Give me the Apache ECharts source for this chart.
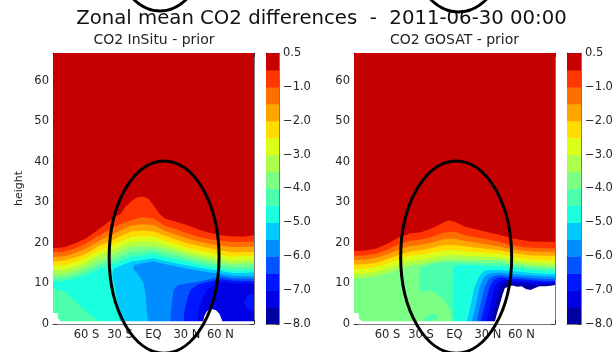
<!DOCTYPE html>
<html><head><meta charset="utf-8">
<script src="https://cdn.jsdelivr.net/npm/echarts@6/dist/echarts.min.js"></script>
<style>html,body{margin:0;padding:0;background:#fff}#c{width:616px;height:352px}</style>
</head><body><div id="c"></div>
<script>
// ---------------- data ----------------
const LEVELS = [-8,-7.5,-7,-6.5,-6,-5.5,-5,-4.5,-4,-3.5,-3,-2.5,-2,-1.5,-1,-0.5,0.5];
const BAND_COLORS = ['#0000a2','#0000e6','#0016ff','#0053ff','#008eff','#00caff','#1affdd','#4bffac',
                     '#7bff84','#acff4b','#dcff1a','#ffdd00','#ffa500','#ff6e00','#ff3600','#c40000'];
const LAT_LABELS = {'-60':'60 S','-30':'30 S','0':'EQ','30':'30 N','60':'60 N'};
const LATS = [-90,-80,-70,-60,-50,-40,-30,-20,-10,0,10,20,30,40,50,60,70,80,90];
const H_TOP = 66.8;

// InSitu - prior : contour heights (value < level below the line)
const inLt0_5 = [[-90,18.7],[-80,18.9],[-70,19.9],[-60,21.2],[-50,23.2],[-40,25.2],[-35,26.5],[-30,27.0],[-25,28.9],[-20,30.2],[-15,31.2],[-10,31.4],[-5,31.0],[0,29.3],[5,27.3],[10,26.0],[20,25.2],[30,24.4],[40,23.3],[50,22.5],[60,21.9],[70,21.6],[80,21.5],[90,21.9]];
const inLt1_0 = [17.6,17.8,18.7,19.9,21.6,23.2,24.6,25.6,26.4,26.0,24.3,23.4,22.4,21.5,20.9,20.5,20.2,20.2,20.3];
const inLt1_5 = [16.5,16.7,17.5,18.7,20.3,21.7,23.0,24.2,24.6,24.4,23.0,22.0,21.1,20.4,19.8,19.3,19.0,19.0,19.1];
const inLt2_0 = [15.4,15.6,16.4,17.4,19.1,20.3,21.6,22.8,23.0,22.8,21.8,20.8,19.9,19.3,18.7,18.1,17.7,17.7,17.8];
const inLt2_5 = [14.3,14.5,15.3,16.4,17.9,19.1,20.3,21.4,21.6,21.5,20.6,19.7,18.8,18.2,17.6,17.1,16.6,16.7,16.8];
const inLt3_0 = [13.3,13.4,14.2,15.3,16.8,17.8,19.0,20.1,20.3,20.3,19.5,18.7,17.8,17.2,16.6,16.1,15.6,15.7,15.8];
const inLt3_5 = [12.2,12.3,13.1,14.1,15.6,16.6,17.8,18.9,19.1,19.0,18.5,17.8,17.0,16.3,15.8,15.3,14.8,14.9,15.0];
const inLt4_0 = [11.3,11.4,12.1,13.1,14.5,15.4,16.6,17.7,18.0,18.2,17.5,16.9,16.2,15.5,15.0,14.5,14.0,14.0,14.1];
const inLt4_5 = [10.5,10.6,11.2,12.1,13.4,14.3,15.5,16.6,16.9,17.3,16.5,16.0,15.4,14.7,14.2,13.7,13.2,13.2,13.3];
const inLt4_5Floor = [[-45,0],[-48,0.6],[-55,1.8],[-62,3.5],[-68,5.2],[-74,6.7],[-80,8.0],[-90,8.8]];
const inLt5_0 = [[-30,0],[-31,3],[-33,6.5],[-35,9.5],[-37,12],[-36,13.6],[-30,14.3],[-20,15.4],[-10,15.8],[0,16.2],[10,15.5],[20,15.0],[30,14.5],[40,13.9],[50,13.5],[60,13.1],[70,12.6],[80,12.6],[90,12.7],[90,0]];
const inLt5_5 = [[-4.5,0],[-6,3],[-7,7],[-9,10],[-13,12],[-18,13.5],[-18,14.3],[-12,14.9],[-5,15.2],[0,15.4],[10,14.8],[20,14.2],[30,13.7],[40,13.2],[50,12.7],[60,12.3],[70,11.9],[80,11.8],[90,11.8],[90,0]];
const inLt6_0 = [[15,0],[16,4],[18,8.4],[22,9.6],[30,10.0],[40,10.4],[50,11.0],[60,11.7],[70,11.3],[80,11.2],[90,11.2],[90,0]];
const inLt6_5 = [[26.5,0],[28,3.5],[30,5.9],[33,8.4],[40,9.8],[50,10.4],[60,11.1],[70,10.7],[80,10.6],[90,10.6],[90,0]];
const inLt7_0 = [[38.7,0],[41.7,5],[47.7,8.4],[56.6,10],[60,10.4],[70,10.1],[80,10.0],[90,10.0],[90,7.5],[84,7.2],[81,5.5],[83,3.8],[90,3.4],[90,0]];
const inNoData = [[[-90,0],[-90,0.7],[90,0.7],[90,0]],
                  [[-90,0],[-90,2.7],[-86,2.7],[-85.5,1.3],[-83.5,1.0],[-83.5,0]],
                  [[44,0],[45.5,2],[48,3.2],[52,3.7],[56,3.4],[59,2.5],[61,1.2],[62,0]]];

// GOSAT - prior
const goLt0_5 = [[-90,18.0],[-80,18.1],[-70,18.6],[-60,19.8],[-50,21.3],[-40,22.3],[-30,22.6],[-20,23.6],[-10,25.0],[-5,25.6],[0,25.2],[10,23.9],[20,23.3],[30,22.6],[40,22.0],[50,21.2],[60,20.7],[70,20.3],[80,20.3],[90,20.2]];
const goLt1_0 = [16.8,16.9,17.3,18.3,19.6,20.5,20.8,21.5,22.5,22.8,21.8,21.3,20.8,20.3,19.5,19.0,18.8,18.7,18.6];
const goLt1_5 = [15.8,15.9,16.3,17.2,18.3,19.2,19.5,20.1,20.9,21.0,20.4,20.0,19.6,19.1,18.5,18.1,17.9,17.8,17.7];
const goLt2_0 = [14.6,14.7,15.1,16.0,17.0,17.9,18.2,18.8,19.4,19.5,19.1,18.8,18.5,18.2,17.6,17.2,16.9,16.8,16.7];
const goLt2_5 = [13.5,13.6,14.1,15.0,15.9,16.8,17.0,17.6,18.1,18.2,17.9,17.7,17.5,17.3,16.7,16.2,15.9,15.8,15.7];
const goLt3_0 = [12.3,12.4,12.9,13.7,14.6,15.6,15.8,16.4,16.9,17.0,16.8,16.7,16.6,16.4,15.8,15.4,15.1,15.0,14.9];
const goLt3_5 = [11.3,11.4,11.8,12.5,13.4,14.4,14.7,15.3,15.8,15.9,15.8,15.8,15.8,15.8,15.2,14.7,14.4,14.3,14.2];
const goLt4_0 = [[-31,8.0],[-31.5,11],[-31,13.7],[-30,14.0],[-20,14.8],[-10,15.2],[0,15.2],[10,15.1],[20,15.1],[30,15.0],[40,15.1],[50,14.7],[60,14.2],[70,13.9],[80,13.7],[90,13.6],[90,0],[-1,0],[-2,1],[-5,4],[-10,6],[-18,7.8],[-25,8.2]];
const goLt4_0Patch = [[-27,0.8],[-25,2.0],[-20,2.5],[-16,2.2],[-15,1.0],[-21,0.7]];
const goLt4_5 = [[-1,0],[-1.5,5],[-1.5,10],[-1,14.2],[5,14.6],[10,14.6],[20,14.4],[30,14.3],[40,14.3],[50,14.0],[60,13.6],[70,13.3],[80,13.1],[90,13.0],[90,0]];
const goLt5_0 = [[10.6,0],[14,4],[18,9.2],[22,11.7],[27,13.2],[35,13.3],[40,13.3],[50,13.1],[60,12.8],[70,12.5],[80,12.3],[90,12.3],[90,0]];
const goLt5_5 = [[15,0],[19,4.5],[22.6,9.2],[26,11.4],[30,12.3],[40,12.7],[50,12.4],[60,12.1],[70,11.9],[80,11.7],[90,11.7],[90,0]];
const goLt6_0 = [[19.5,0],[23,4.5],[27,9.2],[30,10.8],[35,11.8],[40,12.1],[50,11.8],[60,11.5],[70,11.3],[80,11.1],[90,11.1],[90,0]];
const goLt6_5 = [[23,0],[27,4.5],[31.5,9.2],[35,10.8],[40,11.5],[50,11.2],[60,11.0],[70,10.8],[80,10.6],[90,10.6],[90,0]];
const goLt7_0 = [[28,0],[32,4.5],[36,9.2],[40,10.5],[45,10.9],[50,10.7],[60,10.5],[70,10.3],[80,10.2],[90,10.2],[90,0]];
const goLt7_5 = [[32.6,0],[36.5,4.5],[40.5,9.2],[44,10.0],[50,10.1],[60,9.9],[70,9.7],[80,9.7],[90,9.9],[90,0]];
const goNoData = [[[-90,0],[-90,0.7],[90,0.7],[90,0]],
                  [[-90,0],[-90,2.7],[-86,2.7],[-85.5,1.3],[-83.5,1.0],[-83.5,0]],
                  [[35.5,0],[38,2.5],[40.5,4.8],[43,7.2],[45,8.8],[48,9.2],[52,9.5],[56,9.2],[60,9.3],[64,8.6],[68,8.4],[72,8.9],[76,9.3],[82,9.3],[86,9.4],[90,9.6],[90,0]]];

// annotation ellipses [centre lat, centre height, half-width deg, half-height]
const ELLIPSE_INSITU = [9.5, 16.5, 49.2, 23.7];
const ELLIPSE_GOSAT = [1.5, 16.5, 49.7, 23.7];

// ---------------- build ----------------
function colorBelow(level) { return BAND_COLORS[LEVELS.indexOf(level) - 1]; }
function fromRow(row) { return [[-90, 0]].concat(LATS.map((la, i) => [la, row[i]])).concat([[90, 0]]); }
function fromRowFloor(row, floor) { return LATS.map((la, i) => [la, row[i]]).concat([[90, 0]]).concat(floor); }
function fromCurve(c) { return [[-90, 0]].concat(c).concat([[90, 0]]); }
const fullField = [[-90, 0], [-90, H_TOP], [90, H_TOP], [90, 0]];

function polySeries(ax, pts, color) {
  return {
    type: 'custom', xAxisIndex: ax, yAxisIndex: ax, clip: true, silent: true, z: 2,
    data: pts,
    renderItem: function (params, api) {
      if (params.dataIndexInside !== 0) return null;
      const n = params.dataInsideLength, points = [];
      for (let i = 0; i < n; i++) points.push(api.coord([api.value(0, i), api.value(1, i)]));
      return { type: 'polygon', shape: { points: points }, style: { fill: color } };
    }
  };
}
function panelSeries(ax, layers, noData) {
  const s = layers.map(l => polySeries(ax, l[1], colorBelow(l[0])));
  noData.forEach(p => s.push(polySeries(ax, p, '#ffffff')));
  return s;
}
const inLayers = [
  [0.5, fullField], [-0.5, fromCurve(inLt0_5)], [-1, fromRow(inLt1_0)], [-1.5, fromRow(inLt1_5)],
  [-2, fromRow(inLt2_0)], [-2.5, fromRow(inLt2_5)], [-3, fromRow(inLt3_0)], [-3.5, fromRow(inLt3_5)],
  [-4, fromRow(inLt4_0)], [-4.5, fromRowFloor(inLt4_5, inLt4_5Floor)], [-5, inLt5_0], [-5.5, inLt5_5],
  [-6, inLt6_0], [-6.5, inLt6_5], [-7, inLt7_0]
];
const goLayers = [
  [0.5, fullField], [-0.5, fromCurve(goLt0_5)], [-1, fromRow(goLt1_0)], [-1.5, fromRow(goLt1_5)],
  [-2, fromRow(goLt2_0)], [-2.5, fromRow(goLt2_5)], [-3, fromRow(goLt3_0)], [-3.5, fromRow(goLt3_5)],
  [-4, goLt4_0], [-4, goLt4_0Patch], [-4.5, goLt4_5], [-5, goLt5_0], [-5.5, goLt5_5],
  [-6, goLt6_0], [-6.5, goLt6_5], [-7, goLt7_0], [-7.5, goLt7_5]
];

function ellipseSeries(ax, e) {
  return {
    type: 'custom', xAxisIndex: ax, yAxisIndex: ax, clip: false, silent: true, z: 10,
    data: [e],
    renderItem: function (params, api) {
      const c = api.coord([api.value(0), api.value(1)]);
      const s = api.size([api.value(2), api.value(3)]);
      return { type: 'ellipse', shape: { cx: c[0], cy: c[1], rx: s[0], ry: s[1] },
               style: { fill: 'none', stroke: '#000', lineWidth: 3 } };
    }
  };
}
function cbarSeries(xa, ya) {
  const data = BAND_COLORS.map((c, i) => [i, i + 1]);
  return {
    type: 'custom', xAxisIndex: xa, yAxisIndex: ya, clip: true, silent: true,
    data: data,
    renderItem: function (params, api) {
      const p0 = api.coord([0, api.value(1)]), p1 = api.coord([1, api.value(0)]);
      return { type: 'rect', shape: { x: p0[0], y: p0[1], width: p1[0] - p0[0], height: p1[1] - p0[1] + 0.5 },
               style: { fill: BAND_COLORS[params.dataIndex] } };
    }
  };
}

const FONT = 'DejaVu Sans';
const TXT = '#262626';
const FRAME = '#7a7a7a';
const PLOT_TOP = 53, PLOT_H = 271;
const grids = [
  { left: 53, top: PLOT_TOP, width: 201, height: PLOT_H },
  { left: 266, top: PLOT_TOP, width: 13, height: PLOT_H },
  { left: 354, top: PLOT_TOP, width: 201, height: PLOT_H },
  { left: 567, top: PLOT_TOP, width: 14, height: PLOT_H }
];
const xAxes = [], yAxes = [];
function latLabel(v) { const k = String(Math.round(v)); return LAT_LABELS[k] !== undefined ? LAT_LABELS[k] : ''; }
// xAxes / yAxes per panel: plot(bottom/left), plot(top/right), cbar(bottom/left), cbar(top/right)
[0, 2].forEach(function (g) {
  xAxes.push({ gridIndex: g, type: 'value', min: -90, max: 90, interval: 30, position: 'bottom',
    axisLine: { show: true, onZero: false, lineStyle: { color: FRAME } },
    axisTick: { inside: true, length: 4, lineStyle: { color: '#333' } },
    axisLabel: { formatter: latLabel, color: TXT, fontFamily: FONT, fontSize: 11.5, margin: 5 },
    splitLine: { show: false } });
  xAxes.push({ gridIndex: g, type: 'value', min: -90, max: 90, interval: 30, position: 'top',
    axisLine: { show: true, onZero: false, lineStyle: { color: FRAME } },
    axisTick: { inside: true, length: 4, lineStyle: { color: '#333' } },
    axisLabel: { show: false }, splitLine: { show: false } });
  yAxes.push({ gridIndex: g, type: 'value', min: 0, max: H_TOP, interval: 10, position: 'left',
    name: g === 0 ? 'height' : '', nameLocation: 'middle', nameGap: 28,
    nameTextStyle: { color: TXT, fontFamily: FONT, fontSize: 11 },
    axisLine: { show: true, onZero: false, lineStyle: { color: FRAME } },
    axisTick: { inside: true, length: 4, lineStyle: { color: '#333' } },
    axisLabel: { formatter: v => (Math.abs(v % 10) < 1e-6 ? String(v) : ''), color: TXT, fontFamily: FONT, fontSize: 11.5, margin: 4 },
    splitLine: { show: false } });
  yAxes.push({ gridIndex: g, type: 'value', min: 0, max: H_TOP, interval: 10, position: 'right',
    axisLine: { show: true, onZero: false, lineStyle: { color: FRAME } },
    axisTick: { inside: true, length: 4, lineStyle: { color: '#333' } },
    axisLabel: { show: false }, splitLine: { show: false } });
  const cg = g + 1;
  xAxes.push({ gridIndex: cg, type: 'value', min: 0, max: 1, position: 'bottom',
    axisLine: { show: true, onZero: false, lineStyle: { color: FRAME } }, axisTick: { show: false },
    axisLabel: { show: false }, splitLine: { show: false } });
  xAxes.push({ gridIndex: cg, type: 'value', min: 0, max: 1, position: 'top',
    axisLine: { show: true, onZero: false, lineStyle: { color: FRAME } }, axisTick: { show: false },
    axisLabel: { show: false }, splitLine: { show: false } });
  yAxes.push({ gridIndex: cg, type: 'value', min: 0, max: 16, position: 'left',
    axisLine: { show: true, onZero: false, lineStyle: { color: FRAME } }, axisTick: { show: false },
    axisLabel: { show: false }, splitLine: { show: false } });
  yAxes.push({ gridIndex: cg, type: 'value', min: 0, max: 16, interval: 2, position: 'right',
    axisLine: { show: true, onZero: false, lineStyle: { color: FRAME } },
    axisTick: { inside: true, length: 3, lineStyle: { color: '#333' } },
    axisLabel: { color: TXT, fontFamily: FONT, fontSize: 11.5, margin: 4,
      formatter: function (v) { const lv = LEVELS[Math.round(v)]; return (lv < 0 ? '\u2212' : '') + Math.abs(lv).toFixed(1); } },
    splitLine: { show: false } });
});

const series = []
  .concat(panelSeries(0, inLayers, inNoData))
  .concat(panelSeries(4, goLayers, goNoData))
  .concat([ellipseSeries(0, ELLIPSE_INSITU), ellipseSeries(4, ELLIPSE_GOSAT)])
  .concat([cbarSeries(2, 3), cbarSeries(6, 7)]);

const chart = echarts.init(document.getElementById('c'), null, { renderer: 'canvas' });
chart.setOption({
  animation: false,
  backgroundColor: '#ffffff',
  grid: grids,
  xAxis: xAxes,
  yAxis: yAxes,
  series: series,
  graphic: [
    { type: 'text', x: 321.5, y: 19, style: { text: 'Zonal mean CO2 differences  -  2011-06-30 00:00', fontFamily: FONT, fontSize: 19.7, fill: '#111', align: 'center', verticalAlign: 'middle' } },
    { type: 'text', x: 154, y: 40, style: { text: 'CO2 InSitu - prior', fontFamily: FONT, fontSize: 14, fill: '#222', align: 'center', verticalAlign: 'middle' } },
    { type: 'text', x: 454.5, y: 40, style: { text: 'CO2 GOSAT - prior', fontFamily: FONT, fontSize: 14, fill: '#222', align: 'center', verticalAlign: 'middle' } },
    { type: 'ellipse', shape: { cx: 160, cy: -85, rx: 55, ry: 96 }, style: { fill: 'none', stroke: '#000', lineWidth: 3 } },
    { type: 'ellipse', shape: { cx: 458.5, cy: -84, rx: 56, ry: 96 }, style: { fill: 'none', stroke: '#000', lineWidth: 3 } }
  ]
});
</script>
</body></html>
